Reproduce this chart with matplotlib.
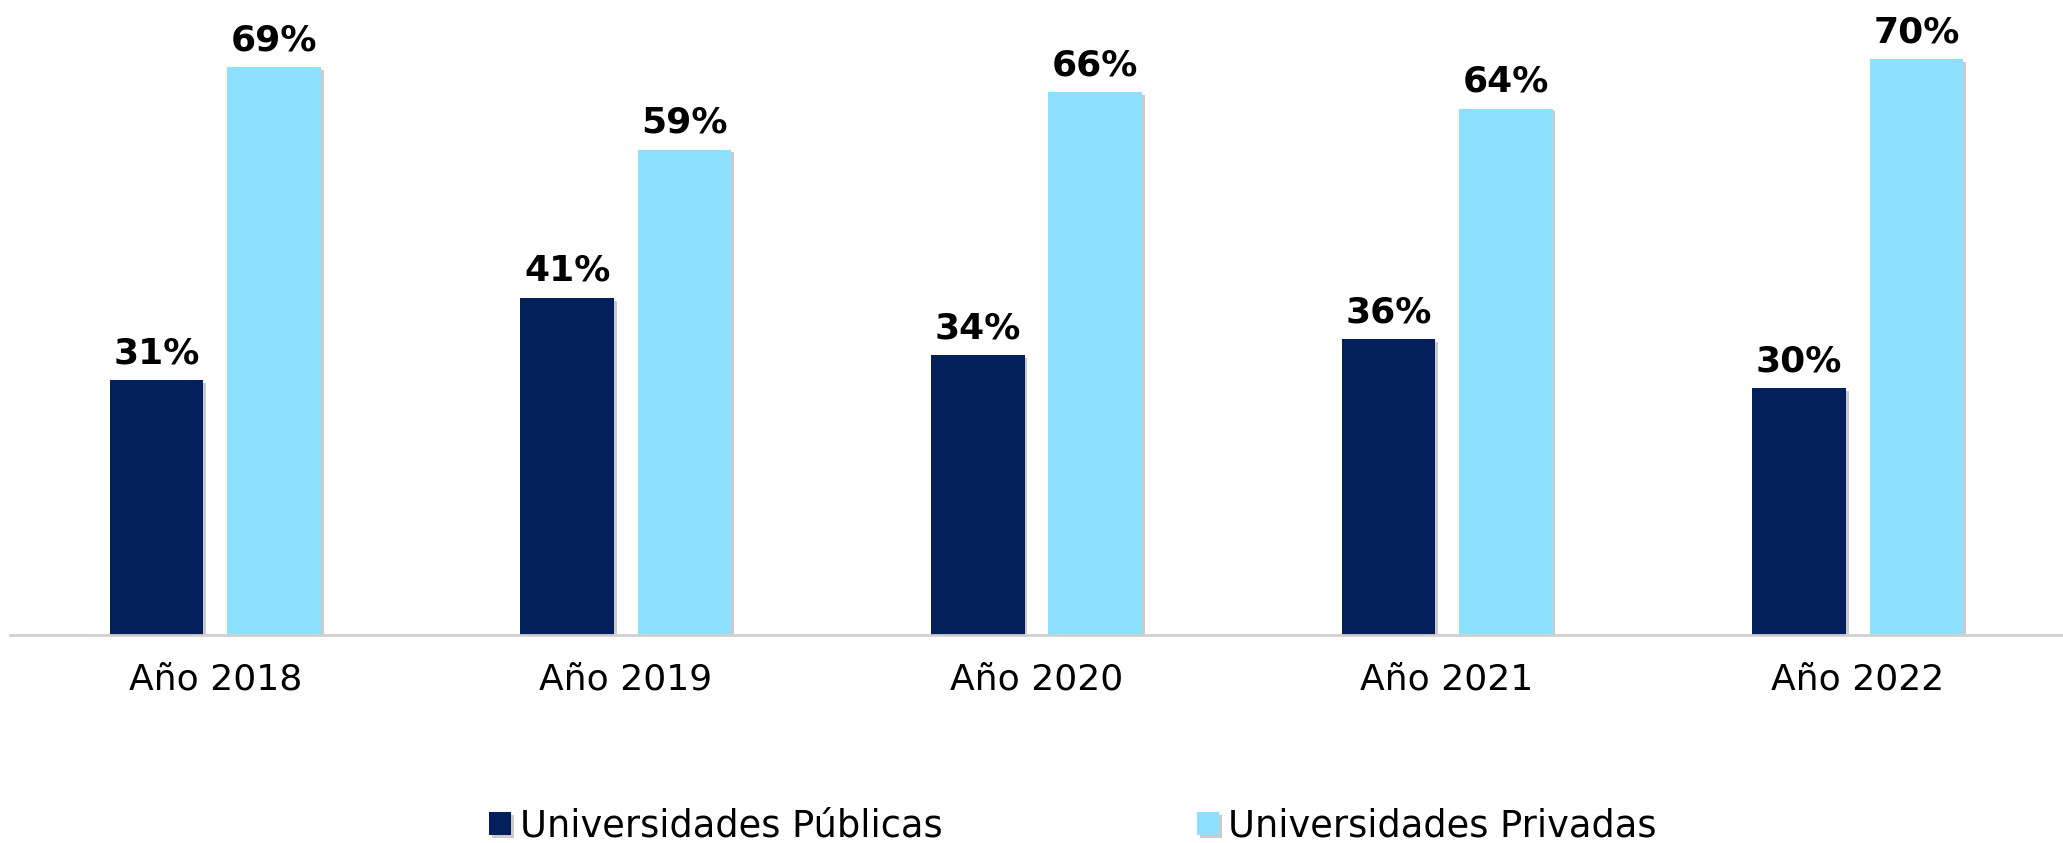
import matplotlib.pyplot as plt
import matplotlib.patheffects as pe
import numpy as np

years = ['Año 2018', 'Año 2019', 'Año 2020', 'Año 2021', 'Año 2022']
publicas = [31, 41, 34, 36, 30]
privadas = [69, 59, 66, 64, 70]

c_pub = '#03205C'
c_priv = '#8CE0FE'

plt.rcParams['font.family'] = ['DejaVu Sans']

fig = plt.figure(figsize=(20.63, 8.43), dpi=100)
ax = fig.add_axes([10 / 2063, 208 / 843, 1 - 10 / 2063, 635 / 843])

x = np.arange(len(years))
w = 0.228
off = 0.143
shadow = [pe.SimplePatchShadow(offset=(2, -2), shadow_rgbFace='#999999', alpha=0.5), pe.Normal()]

b1 = ax.bar(x - off, publicas, w, color=c_pub, label='Universidades Públicas', path_effects=shadow)
b2 = ax.bar(x + off, privadas, w, color=c_priv, label='Universidades Privadas', path_effects=shadow)

for bars, vals in ((b1, publicas), (b2, privadas)):
    for b, v in zip(bars, vals):
        ax.text(b.get_x() + b.get_width() / 2, v + 1.2, f'{v}%', ha='center', va='bottom',
                fontsize=26, fontweight='bold', color='black')

ax.set_xlim(-0.5, len(years) - 0.5)
ax.set_ylim(0, 77.2)
ax.set_xticks(x)
ax.set_xticklabels(years, fontsize=26)
ax.tick_params(axis='x', length=0, pad=20)
ax.set_yticks([])
for s in ['top', 'right', 'left']:
    ax.spines[s].set_visible(False)
ax.spines['bottom'].set_color('#D0D0D0')
ax.spines['bottom'].set_linewidth(2)

fig.legend(handles=[b1, b2], loc='center', bbox_to_anchor=(0.52, 1 - 826 / 843), ncol=2,
           frameon=False, fontsize=26.5, handlelength=0.6, handleheight=0.6, handletextpad=0.25,
           columnspacing=6.9)

fig.savefig('out.png', dpi=100)
